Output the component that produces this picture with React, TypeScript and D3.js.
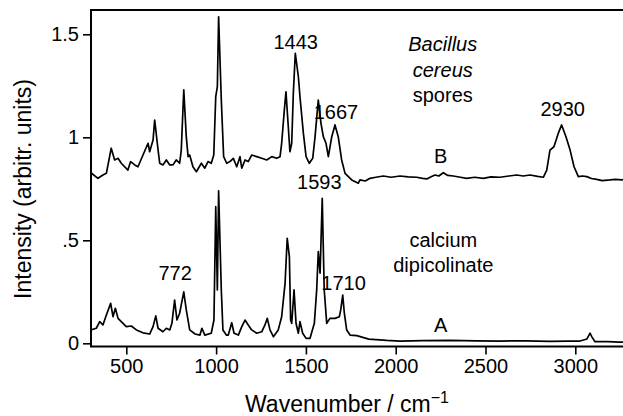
import * as d3 from 'd3';
import { useEffect, useRef } from 'react';

// spectrum B: Bacillus cereus spores (wavenumber, intensity)
const wavenumberB = [
  303, 342, 370, 389, 416, 435, 454, 472, 509, 524, 547, 565, 593, 621, 630, 649, 658, 677, 686,
  704, 723, 742, 760, 778, 797, 806, 820, 834, 844, 853, 871, 890, 918, 937, 955, 973, 987, 998,
  1007, 1014, 1029, 1042, 1059, 1077, 1096, 1115, 1133, 1143, 1161, 1179, 1198, 1226, 1254, 1282,
  1310, 1337, 1356, 1365, 1380, 1389, 1402, 1411, 1421, 1430, 1441, 1458, 1467, 1486, 1501, 1519,
  1538, 1551, 1569, 1584, 1597, 1612, 1625, 1644, 1662, 1680, 1699, 1718, 1755, 1792, 1801, 1830,
  1857, 1890, 1931, 1975, 2024, 2070, 2117, 2150, 2173, 2200, 2219, 2240, 2265, 2290, 2321, 2360,
  2395, 2440, 2488, 2530, 2581, 2630, 2674, 2710, 2748, 2790, 2822, 2841, 2859, 2881, 2905, 2924,
  2948, 2971, 2993, 3017, 3040, 3064, 3090, 3119, 3150, 3193, 3225, 3258, 3270,
];
const intensityB = [
  0.828, 0.801, 0.817, 0.825, 0.947, 0.89, 0.898, 0.874, 0.841, 0.882, 0.866, 0.857, 0.914, 0.971,
  0.93, 0.987, 1.084, 0.938, 0.874, 0.866, 0.89, 0.866, 0.866, 0.89, 0.874, 0.938, 1.23, 1.003,
  0.906, 0.914, 0.857, 0.833, 0.874, 0.85, 0.882, 0.874, 0.914, 1.197, 1.246, 1.585, 1.181, 0.906,
  0.874, 0.882, 0.898, 0.857, 0.906, 0.85, 0.89, 0.882, 0.914, 0.906, 0.898, 0.89, 0.906, 0.898,
  0.906, 0.971, 1.133, 1.221, 1.051, 0.93, 0.971, 1.214, 1.408, 1.294, 1.197, 1.019, 0.906, 0.874,
  0.898, 1.003, 1.181, 1.068, 1.003, 0.971, 0.906, 1.003, 1.06, 1.003, 0.89, 0.825, 0.793, 0.777,
  0.793, 0.788, 0.801, 0.806, 0.812, 0.806, 0.812, 0.808, 0.806, 0.801, 0.798, 0.81, 0.817, 0.812,
  0.828, 0.815, 0.812, 0.806, 0.801, 0.806, 0.801, 0.808, 0.806, 0.812, 0.817, 0.812, 0.817,
  0.81, 0.806, 0.841, 0.938, 0.954, 1.019, 1.06, 1.003, 0.938, 0.857, 0.809, 0.812, 0.809, 0.8,
  0.796, 0.79, 0.793, 0.796, 0.793, 0.795,
];

// spectrum A: calcium dipicolinate
const wavenumberA = [
  303, 333, 352, 370, 389, 413, 426, 439, 454, 472, 500, 528, 556, 593, 630, 649, 664, 677, 704,
  723, 742, 754, 769, 782, 797, 820, 834, 853, 883, 910, 921, 937, 973, 988, 998, 1007, 1014, 1029,
  1038, 1057, 1068, 1087, 1100, 1124, 1143, 1161, 1179, 1198, 1226, 1254, 1272, 1285, 1300, 1319,
  1346, 1365, 1384, 1396, 1408, 1415, 1421, 1434, 1445, 1458, 1467, 1482, 1501, 1523, 1547, 1560,
  1569, 1579, 1591, 1602, 1616, 1634, 1662, 1686, 1694, 1705, 1714, 1727, 1746, 1783, 1850, 1950,
  2024, 2150, 2302, 2450, 2581, 2720, 2859, 2960, 3026, 3065, 3082, 3093, 3110, 3180, 3249, 3270,
];
const intensityA = [
  0.065, 0.073, 0.105, 0.089, 0.137, 0.194, 0.129, 0.17, 0.121, 0.105, 0.081, 0.084, 0.065, 0.051,
  0.045, 0.081, 0.133, 0.073, 0.056, 0.073, 0.065, 0.097, 0.21, 0.113, 0.146, 0.25, 0.162, 0.065,
  0.045, 0.04, 0.073, 0.04, 0.049, 0.113, 0.663, 0.259, 0.74, 0.259, 0.065, 0.04, 0.04, 0.1, 0.049,
  0.04, 0.081, 0.113, 0.089, 0.065, 0.049, 0.056, 0.089, 0.121, 0.065, 0.032, 0.065, 0.129, 0.291,
  0.51, 0.42, 0.113, 0.097, 0.259, 0.097, 0.049, 0.105, 0.049, 0.024, 0.024, 0.097, 0.259, 0.445,
  0.34, 0.704, 0.259, 0.097, 0.121, 0.121, 0.129, 0.162, 0.234, 0.146, 0.065, 0.04, 0.037, 0.02,
  0.014, 0.011, 0.013, 0.014, 0.012, 0.011, 0.012, 0.009, 0.011, 0.011, 0.021, 0.049, 0.03, 0.008,
  0.008, 0.006, 0.006,
];

const xTicks = [500, 1000, 1500, 2000, 2500, 3000];
const yTicks = [0, 0.5, 1, 1.5];
const yTickLabels = ['0', '.5', '1', '1.5'];

// peak labels: [text, wavenumber, intensity]
const peakLabels: [string, number, number][] = [
  ['1443', 1443, 1.43],
  ['1667', 1667, 1.09],
  ['1593', 1575, 0.748],
  ['2930', 2930, 1.105],
  ['772', 772, 0.305],
  ['1710', 1710, 0.258],
  ['B', 2250, 0.875],
  ['A', 2250, 0.055],
];
const sporeLines = ['Bacillus', 'cereus', 'spores'];
const saltLines = ['calcium', 'dipicolinate'];

const font = '"Liberation Sans", Arial, sans-serif';

const Chart = () => {
  const svgRef = useRef<SVGSVGElement>(null);

  useEffect(() => {
    const width = 623;
    const height = 416;
    const left = 91;
    const top = 10;
    const right = 623;
    const bottom = 346.5;

    const x = d3.scaleLinear([500, 3000], [126.3, 575.3]);
    const y = d3.scaleLinear([0, 1.5], [343.3, 34.3]);

    const svg = d3.select(svgRef.current);
    svg.selectAll('*').remove();
    svg.attr('width', width).attr('height', height).attr('viewBox', [0, 0, width, height]);

    svg.append('clipPath').attr('id', 'plot-clip')
      .append('rect')
      .attr('x', left).attr('y', top)
      .attr('width', right - left).attr('height', bottom - top);

    const line = d3.line<[number, number]>()
      .x((d) => x(d[0]))
      .y((d) => y(d[1]));

    const seriesB = wavenumberB.map((w, i) => [w, intensityB[i]] as [number, number]);
    const seriesA = wavenumberA.map((w, i) => [w, intensityA[i]] as [number, number]);

    const plot = svg.append('g').attr('clip-path', 'url(#plot-clip)');
    [seriesB, seriesA].forEach((s) => {
      plot.append('path')
        .attr('fill', 'none')
        .attr('stroke', '#000')
        .attr('stroke-width', 1.7)
        .attr('stroke-linejoin', 'round')
        .attr('d', line(s));
    });

    // frame: left, top, bottom
    svg.append('path')
      .attr('fill', 'none')
      .attr('stroke', '#000')
      .attr('stroke-width', 2)
      .attr('d', `M${right},${top}H${left}V${bottom}H${right}`);

    svg.append('g')
      .attr('transform', `translate(0,${bottom})`)
      .call(
        d3.axisBottom(x)
          .tickValues(xTicks)
          .tickFormat(d3.format('d'))
          .tickSize(8)
          .tickPadding(4)
          .tickSizeOuter(0)
      )
      .call((g) => {
        g.select('.domain').remove();
        g.selectAll('.tick line').attr('stroke-width', 1.6);
        g.selectAll('.tick text')
          .attr('font-size', 20)
          .attr('font-family', font)
          .attr('fill', '#000');
      });

    svg.append('g')
      .attr('transform', `translate(${left},0)`)
      .call(
        d3.axisLeft(y)
          .tickValues(yTicks)
          .tickFormat((d, i) => yTickLabels[i])
          .tickSize(8)
          .tickPadding(4)
          .tickSizeOuter(0)
      )
      .call((g) => {
        g.select('.domain').remove();
        g.selectAll('.tick line').attr('stroke-width', 1.6);
        g.selectAll('.tick text')
          .attr('font-size', 20)
          .attr('font-family', font)
          .attr('fill', '#000');
      });

    const labels = svg.append('g')
      .attr('font-family', font)
      .attr('font-size', 20)
      .attr('text-anchor', 'middle');

    peakLabels.forEach(([t, w, v]) => {
      labels.append('text').attr('x', x(w)).attr('y', y(v)).text(t);
    });

    sporeLines.forEach((t, i) => {
      labels.append('text')
        .attr('x', x(2262))
        .attr('y', y(1.417) + i * 25.5)
        .attr('font-style', i < 2 ? 'italic' : 'normal')
        .text(t);
    });
    saltLines.forEach((t, i) => {
      labels.append('text')
        .attr('x', x(2265))
        .attr('y', y(0.469) + i * 25)
        .text(t);
    });

    svg.append('text')
      .attr('transform', `translate(31,189) rotate(-90)`)
      .attr('text-anchor', 'middle')
      .attr('font-family', font)
      .attr('font-size', 23)
      .text('Intensity (arbitr. units)');

    const xt = svg.append('text')
      .attr('x', 347)
      .attr('y', 412)
      .attr('text-anchor', 'middle')
      .attr('font-family', font)
      .attr('font-size', 23);
    xt.append('tspan').text('Wavenumber / cm');
    xt.append('tspan').attr('dy', -9).attr('font-size', 16).text('\u22121');
  }, []);

  return <svg ref={svgRef} style={{ display: 'block' }} />;
};

export default function App() {
  return (
    <div style={{ position: 'absolute', left: 0, top: 0, background: '#fff' }}>
      <Chart />
    </div>
  );
}
